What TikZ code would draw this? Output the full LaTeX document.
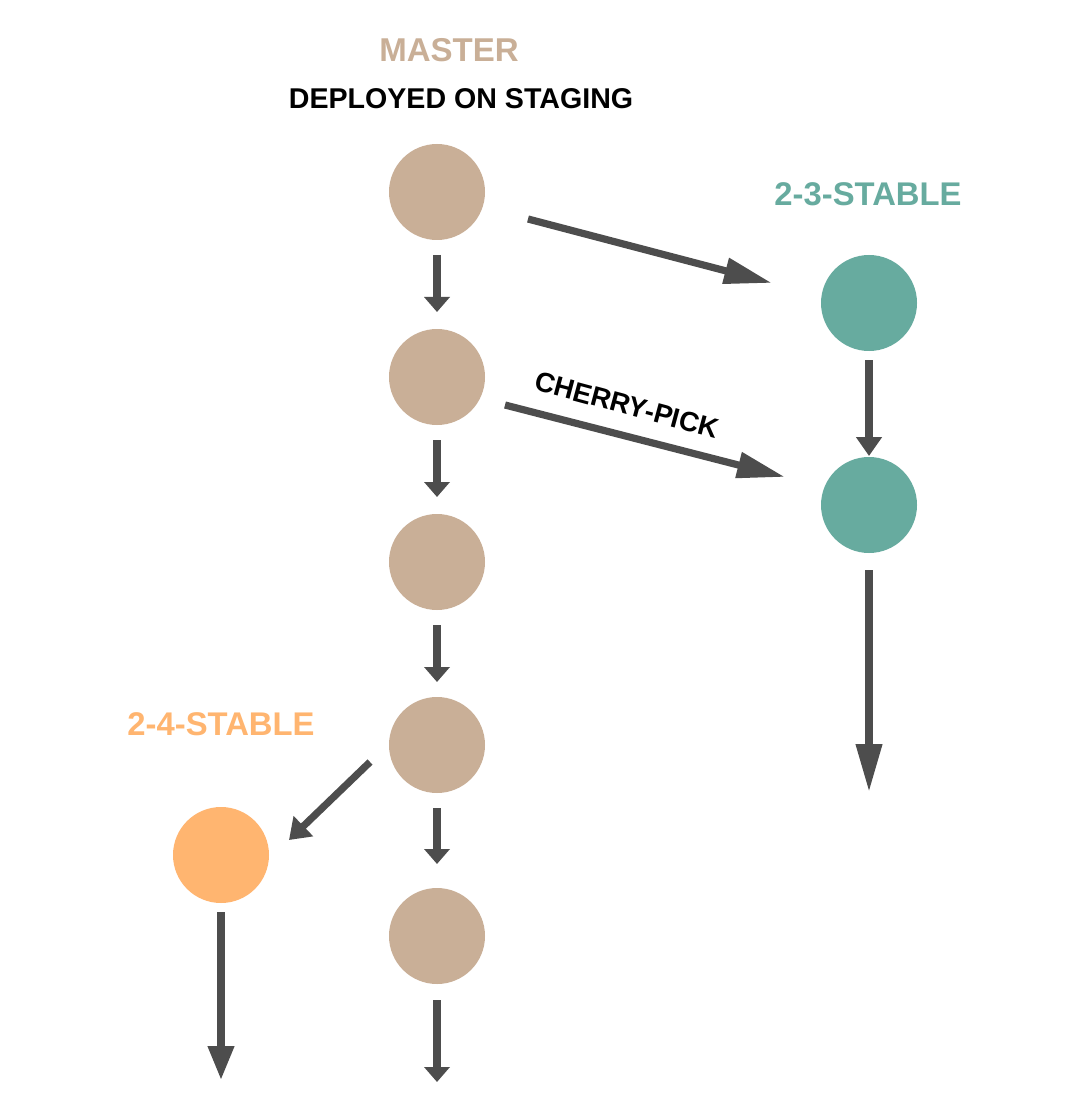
\documentclass[tikz,border=0pt]{standalone}
\usepackage{fontspec}
\setmainfont{Liberation Sans}
\usetikzlibrary{arrows.meta,calc}
\definecolor{tan}{HTML}{C9AF97}
\definecolor{teal2}{HTML}{67AB9F}
\definecolor{orng}{HTML}{FFB570}
\definecolor{arr}{HTML}{4D4D4D}
\begin{document}
\begin{tikzpicture}[x=0.5pt,y=-0.5pt,
  commit/.style={circle,minimum size=48pt,inner sep=0pt,draw=none},
  mc/.style={commit,fill=tan},
  tc/.style={commit,fill=teal2},
  oc/.style={commit,fill=orng},
  conn/.style={draw=arr,line width=3.6pt},
  shorttip/.style={conn,-{Triangle[length=7.5pt,width=12.5pt]}},
  longtip/.style={conn,-{Triangle[length=24pt,width=12.5pt]}},
  midtip/.style={conn,-{Triangle[length=17pt,width=12.5pt]}},
  tealtip/.style={conn,-{Triangle[length=9.5pt,width=12.5pt]}},
  diagtip/.style={conn,-{Triangle[length=10pt,width=13.5pt]}},
  lbl/.style={font=\bfseries,inner sep=0pt,anchor=base}]
\useasboundingbox[fill=white] (0,0) rectangle (1080,1101);
% commits
\node[mc] (m1) at (437,192) {};
\node[mc] (m2) at (437,377) {};
\node[mc] (m3) at (437,562) {};
\node[mc] (m4) at (437,745) {};
\node[mc] (m5) at (437,936) {};
\node[tc] (t1) at (869,303) {};
\node[tc] (t2) at (869,505) {};
\node[oc] (o1) at (221,855) {};
% labels
\node[lbl,text=tan,font=\fontsize{16.5pt}{18pt}\bfseries] (lm) at (449,62) {MASTER};
\node[lbl,font=\fontsize{14.3pt}{16pt}\bfseries] (ld) at (461,109) {DEPLOYED ON STAGING};
\node[lbl,text=teal2,font=\fontsize{16.4pt}{18pt}\bfseries] (lt) at (868,206) {2-3-STABLE};
\node[lbl,text=orng,font=\fontsize{16.4pt}{18pt}\bfseries] (lo) at (221,735) {2-4-STABLE};
\node[font=\fontsize{13.8pt}{16pt}\bfseries,inner sep=0pt,rotate=-15] (lc) at (627,405) {CHERRY-PICK};
% free ends
\coordinate (mend) at (437,1082);
\coordinate (tend) at (869,792);
\coordinate (oend) at (221,1080);
% master chain
\draw[shorttip] ($(m1)+(0,63)$) -- ($(m2)+(0,-65)$);
\draw[shorttip] ($(m2)+(0,63)$) -- ($(m3)+(0,-65)$);
\draw[shorttip] ($(m3)+(0,63)$) -- ($(m4)+(0,-63)$);
\draw[shorttip] ($(m4)+(0,63)$) -- ($(m5)+(0,-72)$);
\draw[shorttip] ($(m5)+(0,64)$) -- (mend);
% branches
\draw[longtip] ($(m1)+(91,27)$) -- ($(t1)+(-97,-20)$);
\draw[longtip] ($(m2)+(68,28)$) -- ($(t2)+(-84,-28)$);
\draw[tealtip] ($(t1)+(0,57)$) -- ($(t2)+(0,-49)$);
\draw[longtip] ($(t2)+(0,65)$) -- (tend);
\draw[diagtip] ($(m4)+(-67,17)$) -- ($(o1)+(68,-15)$);
\draw[midtip] ($(o1)+(0,57)$) -- (oend);
\end{tikzpicture}
\end{document}
